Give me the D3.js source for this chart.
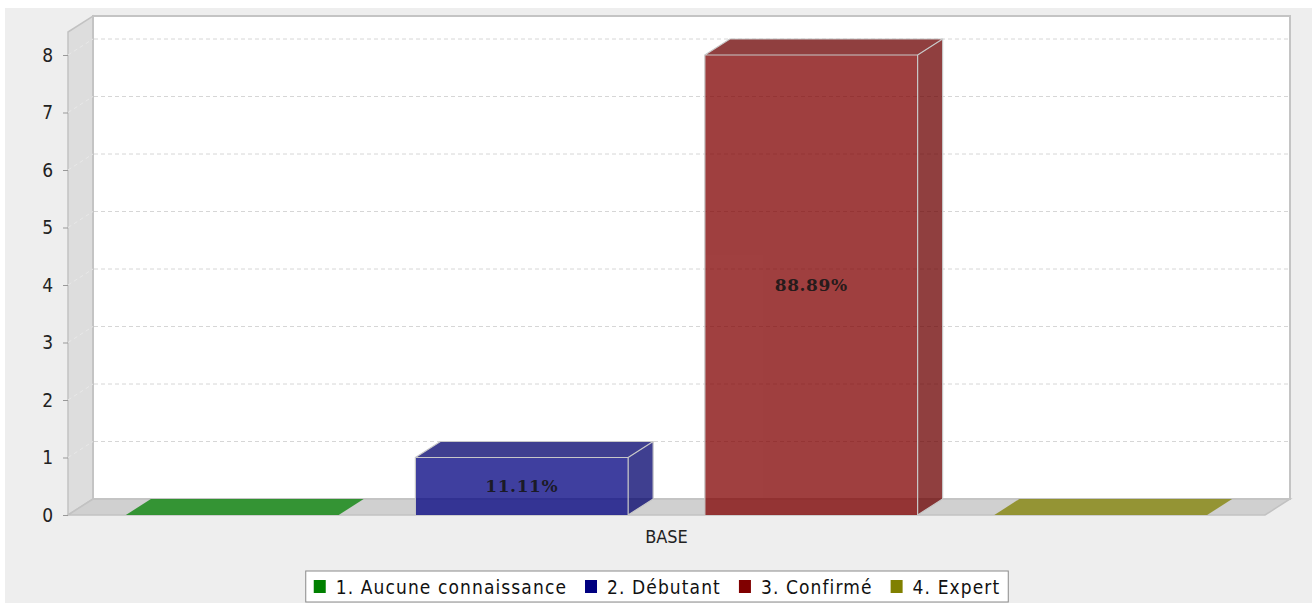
<!DOCTYPE html>
<html>
<head>
<meta charset="utf-8">
<script src="https://cdn.jsdelivr.net/npm/d3@7/dist/d3.min.js"></script>
<style>
  html, body { margin: 0; padding: 0; background: #ffffff; }
  svg { display: block; }
  .tick text { font-family: "DejaVu Sans Condensed", "DejaVu Sans", sans-serif; font-stretch: condensed; }
</style>
</head>
<body>
<svg id="chart" width="1312" height="603"></svg>
<script>
// données
let categories = ["BASE"];
let seriesNames = ["1. Aucune connaissance", "2. Débutant", "3. Confirmé", "4. Expert"];
let seriesValues = [0, 1, 8, 0];
let seriesColors = ["#008000", "#000080", "#800000", "#808000"];
let yTicks = [0, 1, 2, 3, 4, 5, 6, 7, 8];
let yMax = 8.4;

let width = 1312, height = 603;
let depthX = 25, depthY = 16;   // décalage 3D
let plot = { left: 68, right: 1265, top: 32, bottom: 515 };
let labelFont = "'DejaVu Sans Condensed', 'DejaVu Sans', sans-serif";

let svg = d3.select("#chart");

// fond
svg.append("rect")
   .attr("x", 5).attr("y", 8)
   .attr("width", width - 5).attr("height", height - 8)
   .attr("fill", "#eeeeee");

// échelles
let yScale = d3.scaleLinear()
               .domain([0, yMax])
               .range([plot.bottom, plot.top]);

let xCat = d3.scaleBand()
             .domain(categories)
             .range([plot.left, plot.right]);

let xSeries = d3.scaleBand()
                .domain(seriesNames)
                .range([plot.left, plot.right])
                .paddingInner(0.265)
                .paddingOuter(0.2);

let y0 = yScale(0);
let yTop = yScale(yMax);

// mur gauche
svg.append("polygon")
   .attr("points", [[plot.left, y0], [plot.left, yTop], [plot.left + depthX, yTop - depthY], [plot.left + depthX, y0 - depthY]].join(" "))
   .attr("fill", "#dddddd")
   .attr("stroke", "#c2c2c2")
   .attr("stroke-width", 1.5);

// sol
svg.append("polygon")
   .attr("points", [[plot.left, y0], [plot.right, y0], [plot.right + depthX, y0 - depthY], [plot.left + depthX, y0 - depthY]].join(" "))
   .attr("fill", "#d0d0d0")
   .attr("stroke", "#c2c2c2")
   .attr("stroke-width", 1.5);

// mur du fond
svg.append("rect")
   .attr("x", plot.left + depthX)
   .attr("y", yTop - depthY)
   .attr("width", plot.right - plot.left)
   .attr("height", y0 - yTop)
   .attr("fill", "#ffffff")
   .attr("stroke", "#c4c4c4")
   .attr("stroke-width", 2);

// grille
let gridTicks = yTicks.filter(t => t > 0);
svg.selectAll(".grid")
   .data(gridTicks)
   .enter().append("line")
   .attr("class", "grid")
   .attr("x1", plot.left + depthX + 1)
   .attr("x2", plot.right + depthX - 1)
   .attr("y1", d => yScale(d) - depthY)
   .attr("y2", d => yScale(d) - depthY)
   .attr("stroke", "#d6d6d6")
   .attr("stroke-width", 1)
   .attr("stroke-dasharray", "4,3");

svg.selectAll(".grid-side")
   .data(gridTicks)
   .enter().append("line")
   .attr("class", "grid-side")
   .attr("x1", plot.left)
   .attr("x2", plot.left + depthX)
   .attr("y1", d => yScale(d))
   .attr("y2", d => yScale(d) - depthY)
   .attr("stroke", "#e8e8e8")
   .attr("stroke-width", 1)
   .attr("stroke-dasharray", "4,3");

// barres 3D
let total = d3.sum(seriesValues);
let bars = seriesNames.map((name, i) => ({ name: name, value: seriesValues[i], color: seriesColors[i] }));

bars.forEach(function(d) {
    let x = xSeries(d.name);
    let w = xSeries.bandwidth();
    let yv = yScale(d.value);
    let dark = d3.color(d.color).darker(0.5);
    let g = svg.append("g").attr("opacity", 0.75);

    if (d.value > 0) {
        // face avant
        g.append("rect")
         .attr("x", x).attr("y", yv)
         .attr("width", w).attr("height", y0 - yv)
         .attr("fill", d.color);
        // face latérale
        g.append("polygon")
         .attr("points", [[x + w, yv], [x + w + depthX, yv - depthY], [x + w + depthX, y0 - depthY], [x + w, y0]].join(" "))
         .attr("fill", dark);
    }
    // face supérieure
    g.append("polygon")
     .attr("points", [[x, yv], [x + depthX, yv - depthY], [x + w + depthX, yv - depthY], [x + w, yv]].join(" "))
     .attr("fill", d.value > 0 ? dark : d.color);

    if (d.value > 0) {
        // contours
        svg.append("path")
           .attr("d", `M${x},${y0}V${yv}H${x + w}V${y0}M${x},${yv}L${x + depthX},${yv - depthY}H${x + w + depthX}V${y0 - depthY}L${x + w},${y0}M${x + w},${yv}L${x + w + depthX},${yv - depthY}`)
           .attr("fill", "none")
           .attr("stroke", "#c8c8c8")
           .attr("stroke-width", 1.2);

        // étiquette en %
        svg.append("text")
           .attr("x", x + w / 2)
           .attr("y", (yv + y0) / 2)
           .attr("dy", "0.36em")
           .attr("text-anchor", "middle")
           .style("font-family", "'DejaVu Serif', serif")
           .style("font-weight", "bold")
           .style("font-size", "17px")
           .style("letter-spacing", "0.6px")
           .attr("fill", "#161616")
           .attr("fill-opacity", 0.9)
           .text((d.value / total * 100).toFixed(2) + "%");
    }
});

// axe Y
let yAxis = d3.axisLeft(yScale)
              .tickValues(yTicks)
              .tickSize(5)
              .tickPadding(10)
              .tickFormat(d3.format("d"));

let gy = svg.append("g")
            .attr("transform", "translate(" + plot.left + ",0)")
            .call(yAxis);
gy.select(".domain").remove();
gy.selectAll(".tick line").attr("stroke", "#999999");
gy.selectAll(".tick text")
  .style("font-size", "19px")
  .attr("fill", "#222222");

// axe X (catégorie)
svg.selectAll(".cat-label")
   .data(categories)
   .enter().append("text")
   .attr("class", "cat-label")
   .attr("x", d => xCat(d) + xCat.bandwidth() / 2)
   .attr("y", 543)
   .attr("text-anchor", "middle")
   .style("font-family", labelFont)
   .style("font-stretch", "condensed")
   .style("font-size", "18px")
   .attr("fill", "#222222")
   .text(d => d);

// légende
let legend = svg.append("g");
let legendBox = legend.append("rect")
                      .attr("y", 571)
                      .attr("height", 31)
                      .attr("fill", "#ffffff")
                      .attr("stroke", "#8a8a8a")
                      .attr("stroke-width", 1);

let cursor = 0;
let items = [];
bars.forEach(function(d) {
    let item = legend.append("g");
    item.append("rect")
        .attr("x", 0).attr("y", 580)
        .attr("width", 12).attr("height", 13)
        .attr("fill", d.color);
    let t = item.append("text")
        .attr("x", 22).attr("y", 587)
        .attr("dy", "0.36em")
        .style("font-family", labelFont)
        .style("font-stretch", "condensed")
        .style("font-size", "19px")
        .style("letter-spacing", "1.1px")
        .attr("fill", "#111111")
        .text(d.name);
    let tw = t.node().getComputedTextLength();
    items.push({ g: item, w: 22 + tw });
});

let gap = 18, padL = 8, padR = 8;
let totalW = padL + d3.sum(items, d => d.w) + gap * (items.length - 1) + padR;
let boxX = 657 - totalW / 2;
legendBox.attr("x", boxX).attr("width", totalW);
cursor = boxX + padL;
items.forEach(function(it) {
    it.g.attr("transform", "translate(" + cursor + ",0)");
    cursor += it.w + gap;
});
</script>
</body>
</html>
